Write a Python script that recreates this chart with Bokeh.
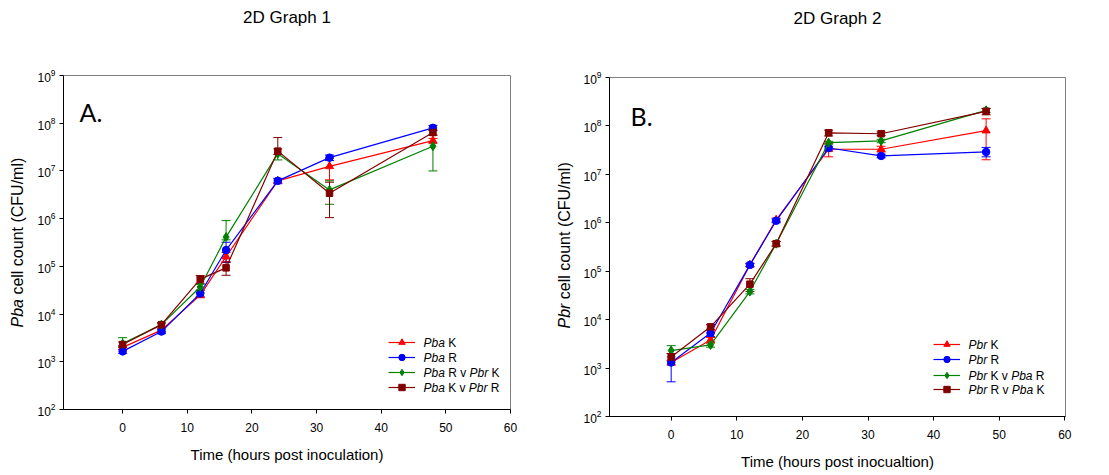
import math
from bokeh.plotting import figure
from bokeh.models import (ColumnDataSource, Whisker, TeeHead, Label, Legend,
                          LegendItem, FixedTicker)
from bokeh.layouts import row, column
from bokeh.core.properties import value
from bokeh.embed import file_html
from bokeh.resources import INLINE

# ---------------- data ----------------
hours = [0, 6, 12, 16, 24, 32, 48]
x_ticks = [0, 10, 20, 30, 40, 50, 60]
y_ticks = [1e2, 1e3, 1e4, 1e5, 1e6, 1e7, 1e8, 1e9]

titles = ["2D Graph 1", "2D Graph 2"]
panel_tags = ["A.", "B."]
x_labels = ["Time (hours post inoculation)", "Time (hours post inocualtion)"]

# Graph 1 (Pba cell count)
pba_k = [2.0e3, 4.6e3, 2.5e4, 1.6e5, 6.2e6, 1.25e7, 4.3e7]
pba_k_up = [2e2, 4e2, 3e3, 3.5e4, 6e5, 6e6, 5e6]
pba_k_dn = [2e2, 4e2, 3e3, 3.5e4, 6e5, 6e6, 5e6]

pba_r = [1.65e3, 4.3e3, 2.7e4, 2.2e5, 6.2e6, 1.9e7, 8.0e7]
pba_r_up = [1.5e2, 4e2, 4e3, 1e5, 8e5, 2.5e6, 1e7]
pba_r_dn = [1.5e2, 4e2, 4e3, 1e5, 8e5, 2.5e6, 1e7]

pba_r_v_pbr_k = [2.4e3, 6.0e3, 3.7e4, 4.1e5, 2.3e7, 4.0e6, 3.3e7]
pba_r_v_pbr_k_up = [8e2, 5e2, 5e3, 5e5, 6e6, 2.2e6, 2.3e7]
pba_r_v_pbr_k_dn = [3e2, 5e2, 5e3, 5e4, 6e6, 2.0e6, 2.3e7]

pba_k_v_pbr_r = [2.3e3, 6.0e3, 5.4e4, 9.3e4, 2.6e7, 3.4e6, 6.4e7]
pba_k_v_pbr_r_up = [3e2, 5e2, 1e4, 3e4, 2.4e7, 2.4e6, 8e6]
pba_k_v_pbr_r_dn = [3e2, 5e2, 1e4, 2.8e4, 4e6, 2.35e6, 8e6]

# Graph 2 (Pbr cell count)
pbr_k = [1.3e3, 3.8e3, 1.35e5, 1.15e6, 3.3e7, 3.3e7, 8.0e7]
pbr_k_up = [1.5e2, 5e2, 1e4, 1e5, 1e7, 5e6, 6e7]
pbr_k_dn = [1.5e2, 5e2, 1e4, 1e5, 1e7, 4e6, 6e7]

pbr_r = [1.3e3, 5.3e3, 1.35e5, 1.1e6, 3.5e7, 2.4e7, 2.9e7]
pbr_r_up = [7e2, 8e2, 1e4, 1e5, 3e6, 2e6, 7e6]
pbr_r_dn = [7.8e2, 8e2, 1e4, 1e5, 3e6, 2e6, 6e6]

pbr_k_v_pba_r = [2.3e3, 3.0e3, 3.8e4, 3.7e5, 4.5e7, 4.9e7, 2.1e8]
pbr_k_v_pba_r_up = [6e2, 3e2, 4e3, 4e4, 3e6, 4e6, 2e7]
pbr_k_v_pba_r_dn = [6e2, 3e2, 4e3, 4e4, 3e6, 4e6, 2e7]

pbr_r_v_pba_k = [1.7e3, 7.1e3, 5.4e4, 3.7e5, 7.2e7, 6.9e7, 2.0e8]
pbr_r_v_pba_k_up = [3e2, 8e2, 1.6e4, 4e4, 1e7, 6e6, 3e7]
pbr_r_v_pba_k_dn = [3e2, 8e2, 1.6e4, 4e4, 1e7, 6e6, 3e7]

legend1 = [
    [("Pba", True), (" K", False)],
    [("Pba", True), (" R", False)],
    [("Pba", True), (" R v ", False), ("Pbr", True), (" K", False)],
    [("Pba", True), (" K v ", False), ("Pbr", True), (" R", False)],
]
legend2 = [
    [("Pbr", True), (" K", False)],
    [("Pbr", True), (" R", False)],
    [("Pbr", True), (" K v ", False), ("Pba", True), (" R", False)],
    [("Pbr", True), (" R v ", False), ("Pba", True), (" K", False)],
]
ylabel1 = [("Pba", True), (" cell count (CFU/ml)", False)]
ylabel2 = [("Pbr", True), (" cell count (CFU/ml)", False)]

colors = ["#ff0000", "#0000ff", "#008000", "#800000"]
markers = ["triangle", "circle", "diamond", "square"]
msizes = [8, 7.5, 9, 6.5]

FONT = "Liberation Sans"
H = 475
TH = 30  # height of title strip
LG = 16  # legend glyph box height
W = {" ": 278, "P": 667, "b": 556, "a": 556, "r": 333, "K": 667, "R": 722,
     "v": 500, "c": 500, "e": 556, "l": 222, "o": 556, "u": 556, "n": 556,
     "t": 278, "(": 333, ")": 333, "C": 722, "F": 611, "U": 722, "/": 278,
     "m": 833}


def tw(s, size):
    return sum(W.get(ch, 556) for ch in s) * size / 1000.0


def rich_text(p, segs, x, y, size, angle=0.0):
    pos = 0.0
    for s, italic in segs:
        lead = len(s) - len(s.lstrip(" "))
        core = s.strip(" ")
        off = pos + tw(" " * lead, size)
        p.add_layout(Label(
            x=x + off * math.cos(angle), y=y + off * math.sin(angle),
            x_units="screen", y_units="screen", text=core, angle=angle,
            text_font=FONT, text_font_size=f"{size}px",
            text_font_style="italic" if italic else "normal",
            text_align="left", text_baseline="middle", text_color="black"))
        pos += tw(s, size)


def blank(width, height):
    f = figure(width=width, height=height, output_backend="svg",
               toolbar_location=None, x_axis_location=None, y_axis_location=None,
               min_border_left=0, min_border_right=0, min_border_top=0,
               min_border_bottom=0, x_range=(0, 1), y_range=(0, 1))
    f.frame_align = False
    f.outline_line_color = None
    f.xgrid.visible = False
    f.ygrid.visible = False
    f.background_fill_color = "white"
    f.border_fill_color = "white"
    return f


def label_strip(width, segs, cx, y_start):
    """Narrow blank figure holding the rotated y-axis title."""
    f = blank(width, H)
    rich_text(f, segs, cx, H - y_start, 16, angle=math.pi / 2)
    return f


def title_strip(width, text, cx, cy):
    f = blank(width, TH)
    f.add_layout(Label(x=cx, y=TH - cy, x_units="screen", y_units="screen",
                       text=text, text_font=FONT, text_font_size="17px",
                       text_align="center", text_baseline="middle",
                       text_color="black"))
    return f


def make_plot(idx, series, legend_segs, geom):
    (width, x_range, bl, br, bt, bb, leg_x, txt_x, row_ys, tag_x, tag_y) = geom
    h = H - TH
    bt = bt - TH
    fh = h - bt - bb
    p = figure(width=width, height=h, x_range=x_range, y_range=(1e2, 1e9),
               y_axis_type="log", output_backend="svg", toolbar_location=None,
               min_border_left=bl, min_border_right=br, min_border_top=bt,
               min_border_bottom=bb)
    p.frame_align = False
    p.xgrid.visible = False
    p.ygrid.visible = False
    p.outline_line_color = "#808080"
    p.outline_line_width = 1
    p.background_fill_color = "white"
    p.border_fill_color = "white"

    p.xaxis.ticker = FixedTicker(ticks=x_ticks)
    p.yaxis.ticker = FixedTicker(ticks=y_ticks)
    for ax in (p.xaxis[0], p.yaxis[0]):
        ax.axis_line_color = "black"
        ax.major_tick_line_color = "black"
        ax.major_tick_out = 4
        ax.major_tick_in = 0
        ax.minor_tick_line_color = None
        ax.major_label_text_font = FONT
        ax.major_label_text_font_size = "12px"
        ax.major_label_text_color = "black"
    p.xaxis.major_label_standoff = 9
    p.yaxis.major_label_standoff = 4
    p.xaxis.axis_label = x_labels[idx]
    p.xaxis.axis_label_text_font = FONT
    p.xaxis.axis_label_text_font_size = "15px"
    p.xaxis.axis_label_text_font_style = "normal"
    p.xaxis.axis_label_text_color = "black"
    p.xaxis.axis_label_standoff = 11

    for k, (vals, up, dn) in enumerate(series):
        src = ColumnDataSource(dict(
            x=hours, y=vals,
            upper=[v + u for v, u in zip(vals, up)],
            lower=[v - d for v, d in zip(vals, dn)]))
        c = colors[k]
        p.add_layout(Whisker(source=src, base="x", upper="upper", lower="lower",
                             line_color=c, line_width=1,
                             upper_head=TeeHead(size=9, line_color=c, line_width=1),
                             lower_head=TeeHead(size=9, line_color=c, line_width=1)))
        lr = p.line("x", "y", source=src, line_color=c, line_width=1.2)
        sr = p.scatter("x", "y", source=src, marker=markers[k], size=msizes[k],
                       fill_color=c, line_color=c)
        ry = row_ys[k] - TH
        legend = Legend(items=[LegendItem(label=value(" "), renderers=[lr, sr])],
                        location=(leg_x, fh - (ry - bt) - LG / 2), glyph_width=27,
                        glyph_height=LG, label_height=LG, label_width=0,
                        spacing=0, padding=0, margin=0, border_line_color=None,
                        background_fill_alpha=0, label_text_font_size="1px",
                        label_standoff=0)
        p.add_layout(legend)

    for segs, ry in zip(legend_segs, row_ys):
        rich_text(p, segs, txt_x, fh - (ry - TH - bt), 12)

    p.add_layout(Label(x=tag_x, y=tag_y, x_units="screen", y_units="screen",
                       text=panel_tags[idx], text_font="Lato",
                       text_font_size="25px", text_align="left",
                       text_baseline="alphabetic", text_color="black"))
    return p


series1 = [(pba_k, pba_k_up, pba_k_dn), (pba_r, pba_r_up, pba_r_dn),
           (pba_r_v_pbr_k, pba_r_v_pbr_k_up, pba_r_v_pbr_k_dn),
           (pba_k_v_pbr_r, pba_k_v_pbr_r_up, pba_k_v_pbr_r_dn)]
series2 = [(pbr_k, pbr_k_up, pbr_k_dn), (pbr_r, pbr_r_up, pbr_r_dn),
           (pbr_k_v_pba_r, pbr_k_v_pba_r_up, pbr_k_v_pba_r_dn),
           (pbr_r_v_pba_k, pbr_r_v_pba_k_up, pbr_r_v_pba_k_dn)]

# strips for y-axis titles: x 0-28 and x 555-575
s1 = label_strip(28, ylabel1, 17, 327)
s2 = label_strip(20, ylabel2, 9, 328)

# geometry (page rows): width, x_range, borders(l,r,t,b), legend x, text x,
# legend row centers, tag x,y
g1 = (527, (-9.15, 60), 35, 45, 75, 66, 325, 360,
      [342, 357, 372, 387], 16, 298)
g2 = (534, (-9.4, 60.1), 34, 44, 77, 59, 324, 359,
      [344, 359, 375, 389], 21, 301)

p1 = make_plot(0, series1, legend1, g1)
p2 = make_plot(1, series2, legend2, g2)
t1 = title_strip(527, titles[0], 35 + (527 - 35 - 45) / 2, 17)
t2 = title_strip(534, titles[1], 34 + (534 - 34 - 44) / 2, 18)

layout = row(s1, column(t1, p1), s2, column(t2, p2))
open("out.html", "w").write(file_html(layout, INLINE))
